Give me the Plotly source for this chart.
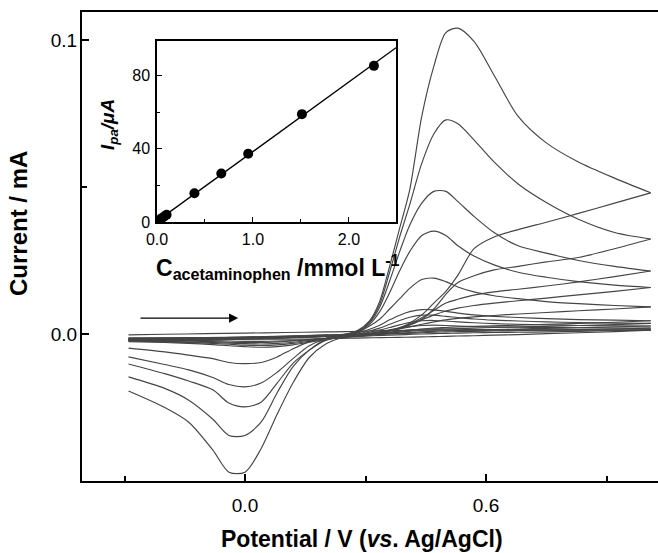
import numpy as np
import plotly.graph_objects as go

# ---------------- data ----------------
# potential grids (V vs Ag/AgCl)
E_fwd = [-0.29, -0.2, -0.1, 0.0, 0.1, 0.2, 0.25, 0.28, 0.31, 0.335, 0.36, 0.385,
         0.41, 0.44, 0.47, 0.50, 0.53, 0.57, 0.62, 0.68, 0.75, 0.83, 0.92, 1.01]
E_rev = [1.01, 0.92, 0.83, 0.75, 0.68, 0.62, 0.57, 0.53, 0.50, 0.47, 0.44, 0.40,
         0.36, 0.32, 0.28, 0.24, 0.20, 0.16, 0.12, 0.08, 0.04, 0.0, -0.04, -0.08,
         -0.14, -0.2, -0.29]

# currents (mA), forward and reverse sweeps, lowest to highest concentration
s6_fwd = [-0.0003, -0.0001, 0.0001, 0.0003, 0.0005, 0.0007, 0.0008, 0.0009, 0.001, 0.0011,
          0.0012, 0.0012, 0.0013, 0.0013, 0.0013, 0.0013, 0.0013, 0.0013, 0.0013, 0.0013,
          0.0013, 0.0013, 0.0013, 0.0013]
s6_rev = [0.0013, 0.0008, 0.0004, 0.0001, -0.0002, -0.0004, -0.0006, -0.0007, -0.0008,
          -0.0009, -0.001, -0.0011, -0.0012, -0.0013, -0.0014, -0.0015, -0.0016, -0.0017,
          -0.0018, -0.0018, -0.0018, -0.0018, -0.0018, -0.0017, -0.0016, -0.0015, -0.0014]
s5_fwd = [-0.0015, -0.0014, -0.0014, -0.0013, -0.0011, -0.0008, -0.0006, -0.0004, -0.0001,
          0.0002, 0.0006, 0.001, 0.0013, 0.0016, 0.0017, 0.0017, 0.0016, 0.0015, 0.0015,
          0.0015, 0.0014, 0.0014, 0.0014, 0.0014]
s5_rev = [0.0014, 0.0011, 0.0009, 0.0007, 0.0006, 0.0005, 0.0004, 0.0003, 0.0002, 0.0001,
          0.0, -0.0002, -0.0004, -0.0006, -0.0009, -0.0012, -0.0016, -0.0019, -0.0022,
          -0.0024, -0.0025, -0.0025, -0.0024, -0.0023, -0.0021, -0.002, -0.0018]
s4_fwd = [-0.0017, -0.0016, -0.0015, -0.0014, -0.0011, -0.0008, -0.0005, -0.0003, 0.0002,
          0.0008, 0.0014, 0.002, 0.0025, 0.0029, 0.003, 0.0029, 0.0027, 0.0025, 0.0024,
          0.0023, 0.0022, 0.0021, 0.002, 0.002]
s4_rev = [0.002, 0.0017, 0.0015, 0.0013, 0.0011, 0.001, 0.0009, 0.0008, 0.0007, 0.0006,
          0.0004, 0.0002, 0.0, -0.0003, -0.0007, -0.0011, -0.0016, -0.002, -0.0024,
          -0.0027, -0.0029, -0.0029, -0.0028, -0.0026, -0.0024, -0.0022, -0.002]
s3_fwd = [-0.0019, -0.0018, -0.0017, -0.0015, -0.0012, -0.0008, -0.0005, -0.0002, 0.0006,
          0.0013, 0.0022, 0.0031, 0.0039, 0.0045, 0.0046, 0.0044, 0.0041, 0.0038, 0.0035,
          0.0033, 0.0031, 0.0029, 0.0028, 0.0027]
s3_rev = [0.0027, 0.0024, 0.0021, 0.0019, 0.0017, 0.0015, 0.0013, 0.0012, 0.0011, 0.0009,
          0.0007, 0.0004, 0.0001, -0.0003, -0.0007, -0.0011, -0.0017, -0.0022, -0.0028,
          -0.0032, -0.0034, -0.0033, -0.0031, -0.0029, -0.0027, -0.0025, -0.0022]
s2_fwd = [-0.0021, -0.002, -0.0019, -0.0017, -0.0013, -0.0008, -0.0005, 0.0, 0.001,
          0.002, 0.0033, 0.0046, 0.0057, 0.0064, 0.0064, 0.006, 0.0056, 0.0051, 0.0047,
          0.0044, 0.0041, 0.0039, 0.0037, 0.0036]
s2_rev = [0.0036, 0.0032, 0.0029, 0.0026, 0.0024, 0.0022, 0.002, 0.0018, 0.0017, 0.0015,
          0.0012, 0.0008, 0.0003, -0.0001, -0.0006, -0.0011, -0.0018, -0.0025, -0.0032,
          -0.0037, -0.0039, -0.0038, -0.0035, -0.0032, -0.0029, -0.0027, -0.0024]
s1_fwd = [-0.0024, -0.0023, -0.0021, -0.0018, -0.0014, -0.0008, -0.0004, 0.0003, 0.0016,
          0.003, 0.0048, 0.0064, 0.0076, 0.0083, 0.0082, 0.0077, 0.0071, 0.0065, 0.006,
          0.0056, 0.0052, 0.0049, 0.0047, 0.0045]
s1_rev = [0.0045, 0.004, 0.0036, 0.0033, 0.003, 0.0028, 0.0026, 0.0024, 0.0022, 0.002,
          0.0017, 0.0012, 0.0006, 0.0001, -0.0005, -0.0011, -0.002, -0.0028, -0.0037, -0.0043,
          -0.0045, -0.0043, -0.004, -0.0036, -0.0032, -0.0029, -0.0026]

c5_fwd = [-0.0022, -0.0021, -0.0019, -0.0016, -0.0012, -0.0007, -0.0004, 0.0005, 0.0027,
          0.005, 0.0085, 0.012, 0.0155, 0.0185, 0.019, 0.0178, 0.016, 0.0143, 0.013, 0.012,
          0.011, 0.0103, 0.0097, 0.0092]
c5_rev = [0.0092, 0.0085, 0.0079, 0.0073, 0.0068, 0.0063, 0.0058, 0.0053, 0.0048, 0.0041,
          0.0033, 0.0021, 0.001, 0.0003, -0.0002, -0.0007, -0.0014, -0.0027, -0.005, -0.0078,
          -0.0097, -0.0101, -0.0097, -0.0084, -0.0072, -0.0061, -0.0048]
c4_fwd = [-0.002, -0.0019, -0.0017, -0.0014, -0.001, -0.0006, -0.0003, 0.0007, 0.0033,
          0.0075, 0.014, 0.0215, 0.028, 0.0335, 0.035, 0.0335, 0.03, 0.0265, 0.0235, 0.021,
          0.0193, 0.0178, 0.0166, 0.0158]
c4_rev = [0.0158, 0.0145, 0.0133, 0.0122, 0.0113, 0.0105, 0.0097, 0.0088, 0.0078, 0.0064,
          0.0048, 0.0026, 0.0011, 0.0003, -0.0003, -0.0009, -0.0018, -0.004, -0.0083, -0.013,
          -0.0167, -0.018, -0.0172, -0.0148, -0.0122, -0.0104, -0.0078]
c3_fwd = [-0.0018, -0.0017, -0.0015, -0.0012, -0.0009, -0.0005, -0.0002, 0.0009, 0.0038,
          0.009, 0.018, 0.028, 0.037, 0.0445, 0.0485, 0.0485, 0.045, 0.04, 0.0345, 0.03,
          0.0275, 0.025, 0.023, 0.0214]
c3_rev = [0.0214, 0.0195, 0.0177, 0.0163, 0.0152, 0.0143, 0.0132, 0.0118, 0.0105, 0.008,
          0.0055, 0.0028, 0.0012, 0.0003, -0.0003, -0.0009, -0.0022, -0.0055, -0.0099,
          -0.0167, -0.0232, -0.0248, -0.0235, -0.019, -0.016, -0.0135, -0.0102]
c2_fwd = [-0.0016, -0.0015, -0.0013, -0.0011, -0.0008, -0.0004, -0.0001, 0.001, 0.0042,
          0.01, 0.021, 0.033, 0.044, 0.058, 0.068, 0.0728, 0.0715, 0.066, 0.0585, 0.051,
          0.0447, 0.039, 0.0345, 0.0323]
c2_rev = [0.0323, 0.029, 0.026, 0.0245, 0.023, 0.0218, 0.0198, 0.0175, 0.0135, 0.0085,
          0.005, 0.0025, 0.001, 0.0002, -0.0004, -0.001, -0.002, -0.0055, -0.011, -0.02, -0.03,
          -0.0345, -0.0345, -0.029, -0.0225, -0.0185, -0.0146]
c1_fwd = [-0.0014, -0.0013, -0.0012, -0.001, -0.0007, -0.0003, 0.0, 0.0012, 0.0045,
          0.011, 0.023, 0.036, 0.049, 0.074, 0.091, 0.1025, 0.104, 0.0995, 0.088, 0.074, 0.065,
          0.0585, 0.053, 0.048]
c1_rev = [0.048, 0.0445, 0.041, 0.038, 0.0355, 0.033, 0.029, 0.02, 0.0145, 0.0105, 0.0065,
          0.003, 0.0012, 0.0002, -0.0004, -0.0013, -0.0035, -0.008, -0.0165, -0.0273, -0.039,
          -0.047, -0.047, -0.0395, -0.03, -0.025, -0.0194]

# inset: calibration
conc = [0.005, 0.01, 0.025, 0.05, 0.075, 0.1, 0.39, 0.67, 0.95, 1.51, 2.26]   # mmol/L
ipa = [0.3, 0.6, 1.2, 2.1, 3.0, 4.0, 15.7, 26.5, 37.3, 59.0, 85.4]            # uA

curves = [(s6_fwd, s6_rev), (s5_fwd, s5_rev), (s4_fwd, s4_rev), (s3_fwd, s3_rev),
          (s2_fwd, s2_rev), (s1_fwd, s1_rev), (c5_fwd, c5_rev), (c4_fwd, c4_rev),
          (c3_fwd, c3_rev), (c2_fwd, c2_rev), (c1_fwd, c1_rev)]

# ---------------- figure ----------------
FONT = "Liberation Sans, Arial, sans-serif"
LC = "#454545"
fig = go.Figure()
for fwd, rev in curves:
    for xs, ys in ((E_fwd, fwd), (E_rev, rev)):
        fig.add_trace(go.Scatter(x=xs, y=ys, mode="lines", hoverinfo="skip",
                                 line=dict(color=LC, width=1.15, shape="spline", smoothing=0.8)))

# inset fit line
slope, icpt = np.polyfit(conc, ipa, 1)
fit_x = [0.0, 2.49]
fit_y = [icpt + slope * v for v in fit_x]
fig.add_trace(go.Scatter(x=fit_x, y=fit_y, xaxis="x2", yaxis="y2", mode="lines",
                         line=dict(color="black", width=1.4), hoverinfo="skip"))
fig.add_trace(go.Scatter(x=conc, y=ipa, xaxis="x2", yaxis="y2", mode="markers",
                         marker=dict(color="black", size=10), hoverinfo="skip"))

W, H = 658, 553
L, R, T, B = 82, 0, 12, 72
pw, ph = W - L - R, H - T - B


def px(xp):
    return (xp - L) / pw


def py(yp):
    return (H - B - yp) / ph


tickfont = dict(family=FONT, size=19, color="black")
fig.update_layout(
    width=W, height=H, margin=dict(l=L, r=R, t=T, b=B),
    paper_bgcolor="white", plot_bgcolor="white", showlegend=False,
    xaxis=dict(range=[-0.4058, 1.0281], showline=True, linecolor="black", linewidth=2,
               mirror=True, ticks="inside", ticklen=7, tickwidth=1.5, tickcolor="black",
               tick0=0, dtick=0.6, tickformat=".1f", tickfont=tickfont,
               showgrid=False, zeroline=False, ticklabelstandoff=6,
               minor=dict(tick0=0, dtick=0.3, ticks="inside", ticklen=5, tickwidth=1.5,
                          tickcolor="black", showgrid=False)),
    yaxis=dict(range=[-0.05, 0.1095], showline=True, linecolor="black", linewidth=2,
               mirror=False, ticks="inside", ticklen=7, tickwidth=1.5, tickcolor="black",
               tick0=0, dtick=0.1, tickformat=".1f", tickfont=tickfont,
               showgrid=False, zeroline=False, ticklabelstandoff=-1,
               minor=dict(tick0=0, dtick=0.05, ticks="inside", ticklen=5, tickwidth=1.5,
                          tickcolor="black", showgrid=False)),
    xaxis2=dict(domain=[px(157), px(396)], anchor="y2", range=[0, 2.49], showline=True,
                linecolor="black", linewidth=1.5, mirror=True, ticks="inside", ticklen=5,
                tickwidth=1.2, tickcolor="black", tick0=0, dtick=1, tickformat=".1f",
                tickfont=dict(family=FONT, size=16, color="black"), showgrid=False,
                zeroline=False, ticklabelstandoff=2,
                minor=dict(tick0=0, dtick=0.5, ticks="inside", ticklen=3, tickwidth=1.2,
                           tickcolor="black", showgrid=False)),
    yaxis2=dict(domain=[py(222), py(41)], anchor="x2", range=[0, 99], showline=True,
                linecolor="black", linewidth=1.5, mirror=True, ticks="inside", ticklen=5,
                tickwidth=1.2, tickcolor="black", tick0=0, dtick=40,
                tickfont=dict(family=FONT, size=16, color="black"), showgrid=False,
                zeroline=False, ticklabelstandoff=2,
                minor=dict(tick0=0, dtick=20, ticks="inside", ticklen=3, tickwidth=1.2,
                           tickcolor="black", showgrid=False)),
)

ann = []
ann.append(dict(text="<b>Current / mA</b>", xref="paper", yref="paper",
                x=px(19), y=py(224), textangle=-90, showarrow=False,
                xanchor="center", yanchor="middle",
                font=dict(family=FONT, size=24, color="black")))
ann.append(dict(text="<b>Potential / V (<i>vs</i>. Ag/AgCl)</b>", xref="paper", yref="paper",
                x=px(362), y=py(539), showarrow=False, xanchor="center", yanchor="middle",
                font=dict(family=FONT, size=23, color="black")))
ann.append(dict(text="<b><i>I<sub>pa</sub>/μA</i></b>", xref="paper", yref="paper",
                x=px(109), y=py(125), textangle=-90, showarrow=False,
                xanchor="center", yanchor="middle",
                font=dict(family=FONT, size=19, color="black")))
ann.append(dict(text="<b>C<sub>acetaminophen</sub> /mmol L<sup>-1</sup></b>", xref="paper",
                yref="paper", x=px(278), y=py(267), showarrow=False,
                xanchor="center", yanchor="middle",
                font=dict(family=FONT, size=23, color="black")))
# sweep-direction arrow
ann.append(dict(x=-0.017, y=0.0054, ax=-0.264, ay=0.0054, xref="x", yref="y",
                axref="x", ayref="y", text="", showarrow=True, arrowhead=2,
                arrowsize=1.3, arrowwidth=1.4, arrowcolor="black"))
fig.update_layout(annotations=ann)

fig.write_html("out.html")
